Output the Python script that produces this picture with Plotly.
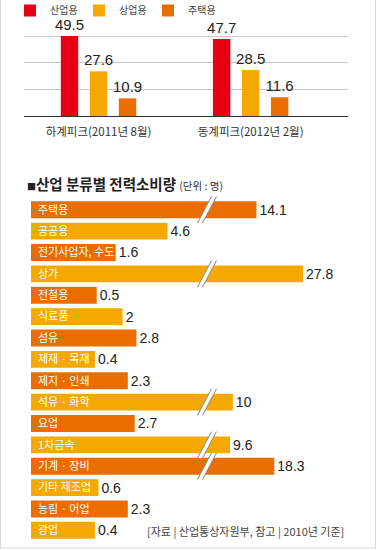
import plotly.graph_objects as go

# ---------------- data ----------------
peak_periods = ["하계피크(2011년 8월)", "동계피크(2012년 2월)"]
series_names = ["산업용", "상업용", "주택용"]
industrial = [49.5, 47.7]
commercial = [27.6, 28.5]
residential = [10.9, 11.6]

sectors = ["주택용", "공공용", "전기사업자, 수도", "상가", "전철용", "식료품", "섬유",
           "제재 · 목재", "제지 · 인쇄", "석유 · 화학", "요업", "1차금속", "기계 · 장비",
           "기타 제조업", "농림 · 어업", "광업"]
sector_values = [14.1, 4.6, 1.6, 27.8, 0.5, 2, 2.8, 0.4, 2.3, 10, 2.7, 9.6, 18.3, 0.6, 2.3, 0.4]

# ---------------- style ----------------
W, H = 380, 550
RED = "#e50012"
YELLOW = "#f5a900"
ORANGE = "#ea6d00"
FONT = "Noto Sans CJK KR"
NUMFONT = "Liberation Sans Narrow, Liberation Sans, Arial, sans-serif"
TXT = "#222222"

def px_x(p):
    return p / W

def px_y(p):
    return 1 - p / H

fig = go.Figure()

# ---------------- top grouped bar chart ----------------
for name, vals, col in zip(series_names, [industrial, commercial, residential], [RED, YELLOW, ORANGE]):
    fig.add_trace(go.Bar(
        x=peak_periods, y=vals, name=name, marker_color=col, marker_line_width=0,
        text=[f"{v:.1f}" for v in vals], textposition="outside", constraintext="none",
        textfont=dict(size=15, color=TXT, family=NUMFONT), cliponaxis=False,
        xaxis="x", yaxis="y", showlegend=True,
    ))

# ---------------- bottom broken horizontal bar chart ----------------
LABEL_BASE = -3.3          # space at the start of each bar for its label
BREAK = 6.88               # break point between linear and compressed segments
row_colors = [ORANGE if i % 2 == 0 else YELLOW for i in range(len(sectors))]

fig.add_trace(go.Bar(
    y=sectors, x=[v - LABEL_BASE for v in sector_values], base=LABEL_BASE,
    orientation="h", marker_color=row_colors, marker_line_width=0, width=0.79,
    text=[(f"{v:g}" if v <= BREAK else "") for v in sector_values],
    textposition="outside", constraintext="none",
    textfont=dict(size=14, color=TXT, family=NUMFONT),
    cliponaxis=False, xaxis="x2", yaxis="y2", showlegend=False,
))
fig.add_trace(go.Bar(
    y=sectors, x=[(v - 5 if v > BREAK else None) for v in sector_values], base=5,
    orientation="h", marker_color=row_colors, marker_line_width=0, width=0.79,
    text=[(f"{v:g}" if v > BREAK else "") for v in sector_values],
    textposition="outside", constraintext="none",
    textfont=dict(size=14, color=TXT, family=NUMFONT),
    cliponaxis=False, xaxis="x3", yaxis="y2", showlegend=False,
))

# break marks
shapes = []
cx = 207
gap = 5
dx = 7
for i, v in enumerate(sector_values):
    if v > BREAK:
        xl_b, xl_t = px_x(cx - gap / 2 - dx), px_x(cx - gap / 2 + dx)
        xr_b, xr_t = px_x(cx + gap / 2 - dx), px_x(cx + gap / 2 + dx)
        yb, yt = i + 0.62, i - 0.62
        shapes.append(dict(type="path", xref="paper", yref="y2",
                           path=f"M {xl_b},{yb} L {xl_t},{yt} L {xr_t},{yt} L {xr_b},{yb} Z",
                           fillcolor="white", line=dict(width=0), layer="above"))
        for xb, xt in [(xl_b, xl_t), (xr_b, xr_t)]:
            shapes.append(dict(type="line", xref="paper", yref="y2", x0=xb, y0=yb, x1=xt, y1=yt,
                               line=dict(color="#8a8a8a", width=1), layer="above"))

# frame
shapes.append(dict(type="rect", xref="paper", yref="paper",
                   x0=px_x(0.5), x1=px_x(375.5), y0=px_y(548), y1=1.05,
                   line=dict(color="#d6d6d6", width=1), fillcolor="rgba(0,0,0,0)", layer="below"))

annotations = [
    dict(text="<span style='font-size:9px'>■</span><b>산업 분류별 전력소비량</b> "
              "<span style='font-size:10.5px;color:#333'>(단위 : 명)</span>",
         xref="paper", yref="paper", x=px_x(25), y=px_y(183), xanchor="left", yanchor="middle",
         showarrow=False, font=dict(size=14.5, color=TXT, family=FONT)),
    dict(text="[자료 | 산업통상자원부, 참고 | 2010년 기준]",
         xref="paper", yref="paper", x=px_x(346), y=px_y(531), xanchor="right", yanchor="middle",
         showarrow=False, font=dict(size=11, color="#444444", family=FONT)),
]

fig.update_layout(
    width=W, height=H, margin=dict(l=0, r=0, t=0, b=0, autoexpand=False),
    paper_bgcolor="white", plot_bgcolor="white",
    font=dict(family=FONT, color=TXT),
    barmode="group", bargap=0.428, bargroupgap=0.4,
    showlegend=True,
    legend=dict(orientation="h", x=px_x(10), y=px_y(-4), xanchor="left", yanchor="top",
                font=dict(size=10, color="#444444", family=FONT), bgcolor="rgba(0,0,0,0)",
                itemwidth=30, tracegroupgap=0, entrywidth=24),
    xaxis=dict(domain=[px_x(24), px_x(348)], range=[-0.49, 1.64], type="category",
               showline=True, linecolor="#333333", linewidth=1, ticks="",
               tickfont=dict(size=11.5, color="#333333", family=FONT), ticklabelstandoff=5,
               fixedrange=True),
    yaxis=dict(domain=[px_y(116), px_y(20)], range=[0, 59.4], tickvals=[16.5, 33, 49.5],
               showticklabels=False, gridcolor="#c9c9c9", gridwidth=1, zeroline=False,
               anchor="x", fixedrange=True),
    xaxis2=dict(domain=[px_x(31), px_x(207)], range=[LABEL_BASE, BREAK], anchor="y2",
                showgrid=False, zeroline=False, showticklabels=False, showline=False),
    xaxis3=dict(domain=[px_x(207), px_x(345)], type="log", range=[0.8364, 1.7098], anchor="y2",
                showgrid=False, zeroline=False, showticklabels=False, showline=False),
    yaxis2=dict(domain=[px_y(541), px_y(196)], autorange="reversed", type="category",
                anchor="x2", ticklabelposition="inside", ticks="", showgrid=False, showline=False,
                tickfont=dict(size=11, color="white", family=FONT), ticklabelstandoff=4),
    shapes=shapes, annotations=annotations,
)

fig.write_html("out.html", config={"displayModeBar": False},
               post_script="document.body.style.margin='0';")
